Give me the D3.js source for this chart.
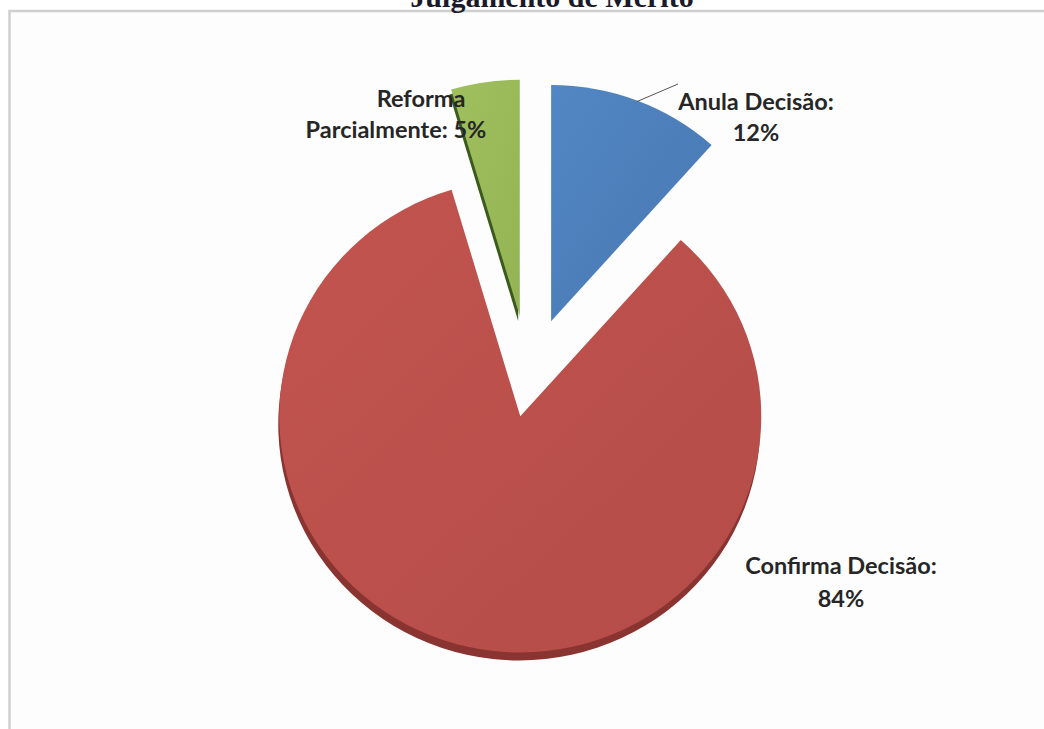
<!DOCTYPE html>
<html>
<head>
<meta charset="utf-8">
<script src="https://cdn.jsdelivr.net/npm/d3@7/dist/d3.min.js"></script>
<style>
  html, body { margin: 0; padding: 0; background: #ffffff; }
  svg { display: block; }
</style>
</head>
<body>
<svg id="chart" width="1044" height="729"></svg>
<script>
// ---- data ----
const title = "Julgamento de Mérito";
const categories = ["Anula Decisão", "Confirma Decisão", "Reforma Parcialmente"];
const values = [11.6, 83.8, 4.6];

// ---- style / layout ----
const W = 1044, H = 729;
const center = { x: 529, y: 378 };
const radius = 241;
const tilt = 0.98;                 // vertical squash of the 3D pie
const explode = [62, 40, 64];      // per-slice explosion distance
const faceColors = [["#5287c3", "#4777b2"], ["#c2544f", "#b44c48"], ["#a0c05e", "#94b354"]];
const sideColors = ["#3d6699", "#8a3431", "#3b5a1d"];
const sideShift = [[0, 0], [-1, 8], [-1.6, 5]];
const labelFontSize = 23.5;
const labelLayout = [
  { lines: d => [d.name + ":", d.pct], x: 756, y: 110, dy: 31 },
  { lines: d => [d.name + ":", d.pct], x: 841, y: 574, dy: 33 },
  { lines: d => [d.name.split(" ")[0], d.name.split(" ").slice(1).join(" ") + ": " + d.pct], x: [421, 396], y: 107, dy: 31 }
];

const svg = d3.select("#chart");

// background
svg.append("rect").attr("width", W).attr("height", H).attr("fill", "#ffffff");

// chart frame (extends past the bottom/right of the picture)
svg.append("rect")
  .attr("x", 9.5).attr("y", 11)
  .attr("width", W + 40).attr("height", H + 40)
  .attr("fill", "#fdfdfd")
  .attr("stroke", "#cfcfcf").attr("stroke-width", 2.5);

// title (cropped at top, as in the source)
svg.append("text")
  .attr("x", 552).attr("y", 7)
  .attr("text-anchor", "middle")
  .attr("font-family", "'Liberation Serif', 'Times New Roman', serif")
  .attr("font-weight", "bold")
  .attr("font-size", 30)
  .attr("fill", "#1a1a2a")
  .text(title);

const defs = svg.append("defs");
faceColors.forEach((c, i) => {
  const g = defs.append("linearGradient")
    .attr("id", "grad" + i)
    .attr("x1", "0%").attr("y1", "0%").attr("x2", "100%").attr("y2", "100%");
  g.append("stop").attr("offset", "0%").attr("stop-color", c[0]);
  g.append("stop").attr("offset", "100%").attr("stop-color", c[1]);
});

const pieGen = d3.pie().sort(null).value(d => d);
const arcs = pieGen(values);
const arcGen = d3.arc().innerRadius(0).outerRadius(radius);

const items = arcs.map((a, i) => {
  const mid = (a.startAngle + a.endAngle) / 2;
  return {
    arc: a,
    i: i,
    name: categories[i],
    pct: Math.round(a.value) + "%",
    dx: explode[i] * Math.sin(mid),
    dy: -explode[i] * Math.cos(mid) * tilt
  };
});

const pieG = svg.append("g");

// side (3D thickness) layers first
items.forEach(d => {
  if (sideShift[d.i][0] === 0 && sideShift[d.i][1] === 0) return;
  pieG.append("g")
    .attr("transform", `translate(${center.x + d.dx + sideShift[d.i][0]},${center.y + d.dy + sideShift[d.i][1]}) scale(1,${tilt})`)
    .append("path")
    .attr("d", arcGen(d.arc))
    .attr("fill", sideColors[d.i]);
});

// faces
items.forEach(d => {
  pieG.append("g")
    .attr("transform", `translate(${center.x + d.dx},${center.y + d.dy}) scale(1,${tilt})`)
    .append("path")
    .attr("d", arcGen(d.arc))
    .attr("fill", `url(#grad${d.i})`);
});

// leader line for "Anula Decisão"
{
  const d = items[0];
  const a = d.arc.startAngle + (d.arc.endAngle - d.arc.startAngle) * 0.5;
  const px = center.x + d.dx + radius * Math.sin(a);
  const py = center.y + d.dy - radius * Math.cos(a) * tilt;
  svg.append("path")
    .attr("d", `M${px},${py + 1}L${678},${84}`)
    .attr("fill", "none")
    .attr("stroke", "#555")
    .attr("stroke-width", 1);
}

// labels
items.forEach(d => {
  const L = labelLayout[d.i];
  const lines = L.lines(d);
  lines.forEach((t, k) => {
    const x = Array.isArray(L.x) ? L.x[k] : L.x;
    svg.append("text")
      .attr("x", x)
      .attr("y", L.y + k * L.dy)
      .attr("text-anchor", "middle")
      .attr("font-family", "Lato, 'Open Sans', sans-serif")
      .attr("font-weight", "bold")
      .attr("font-size", labelFontSize)
      .attr("fill", "#262626")
      .text(t);
  });
});
</script>
</body>
</html>
